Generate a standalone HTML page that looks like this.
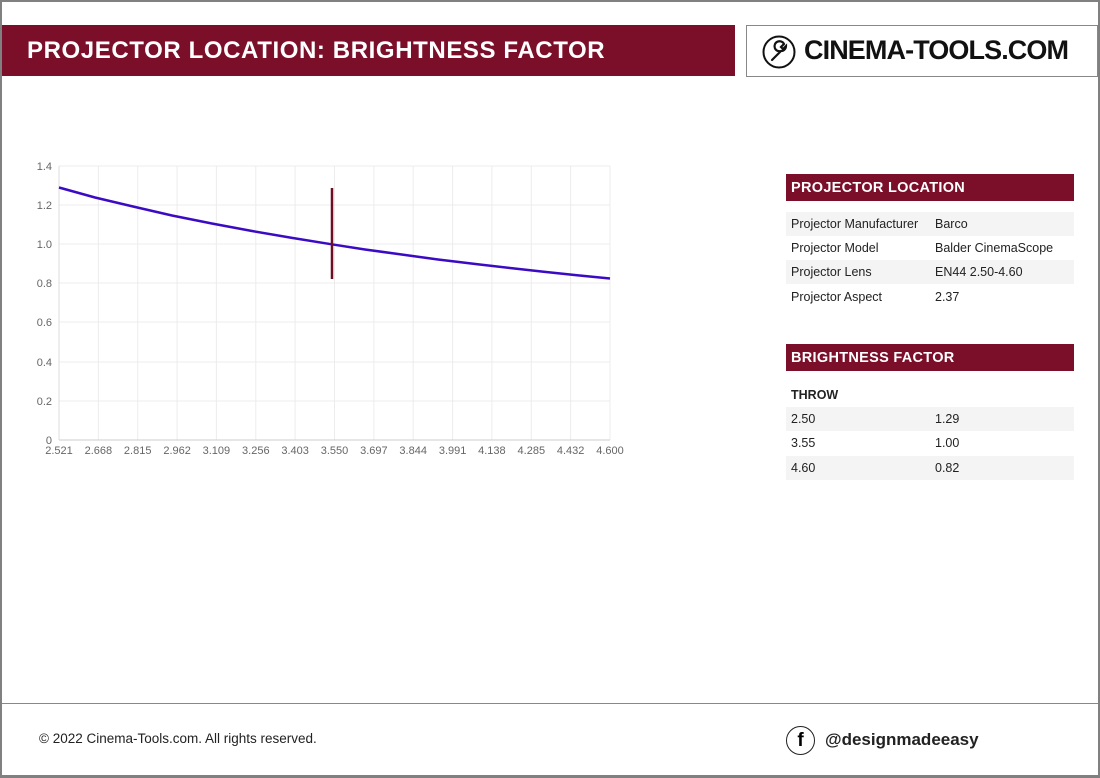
<!DOCTYPE html>
<html><head><meta charset="utf-8"><style>
*{margin:0;padding:0;box-sizing:border-box}
body{width:1100px;height:778px;background:#fff;font-family:"Liberation Sans",sans-serif;position:relative;overflow:hidden}
.frame{position:absolute;left:0;top:0;width:1100px;height:778px;border:2px solid #808080;border-bottom-width:3px}
.hdr{position:absolute;left:2px;top:25px;width:733px;height:51px;background:#7b0f2a;color:#fff;font-weight:bold;font-size:24px;padding:12px 0 0 25px;letter-spacing:0.6px}
.logo{position:absolute;left:746px;top:25px;width:352px;height:52px;border:1px solid #888;font-weight:bold;font-size:27px;padding:9px 0 0 57px;color:#111;letter-spacing:-0.9px}
.logo svg{position:absolute;left:15px;top:9px}
.sec{position:absolute;left:786px;width:288px;height:27px;background:#7b0f2a;color:#fff;font-weight:bold;font-size:14.5px;padding:6px 0 0 5px;letter-spacing:0.3px}
.row{position:absolute;left:786px;width:288px;height:24px;font-size:12.5px;color:#222;padding:5px 0 0 5px}
.row.g{background:#f4f4f4}
.row span{position:absolute;left:149px}
.foot{position:absolute;left:2px;top:703px;width:1096px;border-top:1px solid #888}
</style></head><body>
<div class="frame"></div>
<div class="hdr">PROJECTOR LOCATION: BRIGHTNESS FACTOR</div>
<div class="logo"><svg width="34" height="34" viewBox="0 0 34 34"><circle cx="17" cy="17" r="15.5" fill="none" stroke="#111" stroke-width="2"/><path d="M10 25 L19 16 M19 16 a5 5 0 1 1 3 -7 l-3 3 2 2 3 -3 a5 5 0 0 1 -5 5" fill="none" stroke="#111" stroke-width="2.2" stroke-linecap="round"/></svg>CINEMA-TOOLS.COM</div>
<svg style="position:absolute;left:0;top:0" width="640" height="470" font-family="Liberation Sans, sans-serif" font-size="11" fill="#666">
<g stroke="#ececec" stroke-width="1">
<line x1="59" y1="166" x2="610" y2="166"/><line x1="59" y1="205" x2="610" y2="205"/><line x1="59" y1="244" x2="610" y2="244"/><line x1="59" y1="283" x2="610" y2="283"/><line x1="59" y1="322" x2="610" y2="322"/><line x1="59" y1="362" x2="610" y2="362"/><line x1="59" y1="401" x2="610" y2="401"/>
<line x1="98.4" y1="166" x2="98.4" y2="440"/><line x1="137.7" y1="166" x2="137.7" y2="440"/><line x1="177.1" y1="166" x2="177.1" y2="440"/><line x1="216.4" y1="166" x2="216.4" y2="440"/><line x1="255.8" y1="166" x2="255.8" y2="440"/><line x1="295.1" y1="166" x2="295.1" y2="440"/><line x1="334.5" y1="166" x2="334.5" y2="440"/><line x1="373.9" y1="166" x2="373.9" y2="440"/><line x1="413.2" y1="166" x2="413.2" y2="440"/><line x1="452.6" y1="166" x2="452.6" y2="440"/><line x1="491.9" y1="166" x2="491.9" y2="440"/><line x1="531.3" y1="166" x2="531.3" y2="440"/><line x1="570.6" y1="166" x2="570.6" y2="440"/><line x1="610" y1="166" x2="610" y2="440"/>
</g>
<line x1="59" y1="440" x2="610" y2="440" stroke="#ccc"/><line x1="59" y1="166" x2="59" y2="440" stroke="#ddd"/>
<g text-anchor="end"><text x="52" y="170">1.4</text><text x="52" y="209">1.2</text><text x="52" y="248">1.0</text><text x="52" y="287">0.8</text><text x="52" y="326">0.6</text><text x="52" y="366">0.4</text><text x="52" y="405">0.2</text><text x="52" y="444">0</text></g>
<g text-anchor="middle"><text x="59" y="454">2.521</text><text x="98.4" y="454">2.668</text><text x="137.7" y="454">2.815</text><text x="177.1" y="454">2.962</text><text x="216.4" y="454">3.109</text><text x="255.8" y="454">3.256</text><text x="295.1" y="454">3.403</text><text x="334.5" y="454">3.550</text><text x="373.9" y="454">3.697</text><text x="413.2" y="454">3.844</text><text x="452.6" y="454">3.991</text><text x="491.9" y="454">4.138</text><text x="531.3" y="454">4.285</text><text x="570.6" y="454">4.432</text><text x="610" y="454">4.600</text></g>
<polyline fill="none" stroke="#3b0bc4" stroke-width="2.5" points="59,187.5 95,197.5 133,206.5 172,215.5 212.5,223.6 252,231 292,237.9 331.7,244.3 365,249.5 398,254 438,259.5 477.5,264.2 510,268 543.7,271.8 577,275.3 610,278.5"/>
<line x1="332" y1="188" x2="332" y2="279" stroke="#6b0f25" stroke-width="2.5"/>
</svg>
<div class="sec" style="top:174px">PROJECTOR LOCATION</div>
<div class="row g" style="top:212px">Projector Manufacturer<span>Barco</span></div>
<div class="row" style="top:236px">Projector Model<span>Balder CinemaScope</span></div>
<div class="row g" style="top:260px">Projector Lens<span>EN44 2.50-4.60</span></div>
<div class="row" style="top:285px">Projector Aspect<span>2.37</span></div>
<div class="sec" style="top:344px">BRIGHTNESS FACTOR</div>
<div class="row" style="top:383px;font-weight:bold">THROW</div>
<div class="row g" style="top:407px">2.50<span>1.29</span></div>
<div class="row" style="top:431px">3.55<span>1.00</span></div>
<div class="row g" style="top:456px">4.60<span>0.82</span></div>
<div class="foot"></div>
<div style="position:absolute;left:39px;top:731px;font-size:13.5px;color:#222">© 2022 Cinema-Tools.com. All rights reserved.</div>
<div style="position:absolute;left:786px;top:726px;width:29px;height:29px;border:1.5px solid #222;border-radius:50%;text-align:center;font-weight:bold;font-size:19px;line-height:27px">f</div>
<div style="position:absolute;left:825px;top:730px;font-size:17px;font-weight:bold;color:#222">@designmadeeasy</div>
</body></html>
